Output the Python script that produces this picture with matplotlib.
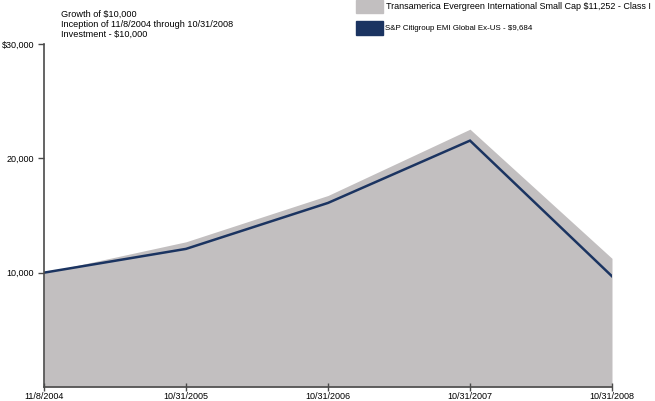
import numpy as np
import matplotlib.pyplot as plt

plt.rcParams['font.family'] = ['Liberation Sans', 'DejaVu Sans']

# data
dates = ["11/8/2004", "10/31/2005", "10/31/2006", "10/31/2007", "10/31/2008"]
fund = [10000, 12700, 16750, 22550, 11252]
index = [10000, 12080, 16100, 21550, 9684]
fund_label = "Transamerica Evergreen International Small Cap $11,252 - Class I"
index_label = "S&P Citigroup EMI Global Ex-US - $9,684"
yticks = [10000, 20000, 30000]
ylabels = ["10,000", "20,000", "$30,000"]

gray = "#C2BFC0"
navy = "#1B3461"
axcol = "#4a4a4a"

fig = plt.figure(figsize=(6.55, 4.01), dpi=100)
ax = fig.add_axes([44 / 655, 14 / 401, 568 / 655, 343 / 401])

x = np.arange(len(dates))
ax.fill_between(x, 0, fund, color=gray, linewidth=0)
ax.plot(x, index, color=navy, linewidth=1.8, solid_joinstyle="miter")

ax.set_xlim(0, len(dates) - 1)
ax.set_ylim(0, 30000)
ax.set_xticks(x)
ax.set_xticklabels(dates, fontsize=6.5)
ax.set_yticks(yticks)
ax.set_yticklabels(ylabels, fontsize=6.5)

for s in ["top", "right"]:
    ax.spines[s].set_visible(False)
for s in ["left", "bottom"]:
    ax.spines[s].set_color(axcol)
    ax.spines[s].set_linewidth(1.2)
ax.tick_params(axis="y", direction="out", length=4, width=1, color=axcol, pad=3)
ax.tick_params(axis="x", direction="inout", length=6, width=1, color=axcol, pad=0.5)

# header text
fig.text(61 / 655, 1 - 9.5 / 401, "Growth of $10,000\nInception of 11/8/2004 through 10/31/2008\nInvestment - $10,000",
         fontsize=6.55, va="top", ha="left", linespacing=1.17)

# legend boxes
fig.patches.append(plt.Rectangle((356 / 655, 1 - 13 / 401), 27 / 655, 13 / 401,
                                 transform=fig.transFigure, color=gray))
fig.text(386 / 655, 1 - 6.5 / 401, fund_label, fontsize=6.45, va="center", ha="left")
fig.patches.append(plt.Rectangle((356 / 655, 1 - 35 / 401), 27 / 655, 14 / 401,
                                 transform=fig.transFigure, color=navy))
fig.text(385 / 655, 1 - 28.5 / 401, index_label, fontsize=5.7, va="center", ha="left")

plt.savefig("out.png", dpi=100)
